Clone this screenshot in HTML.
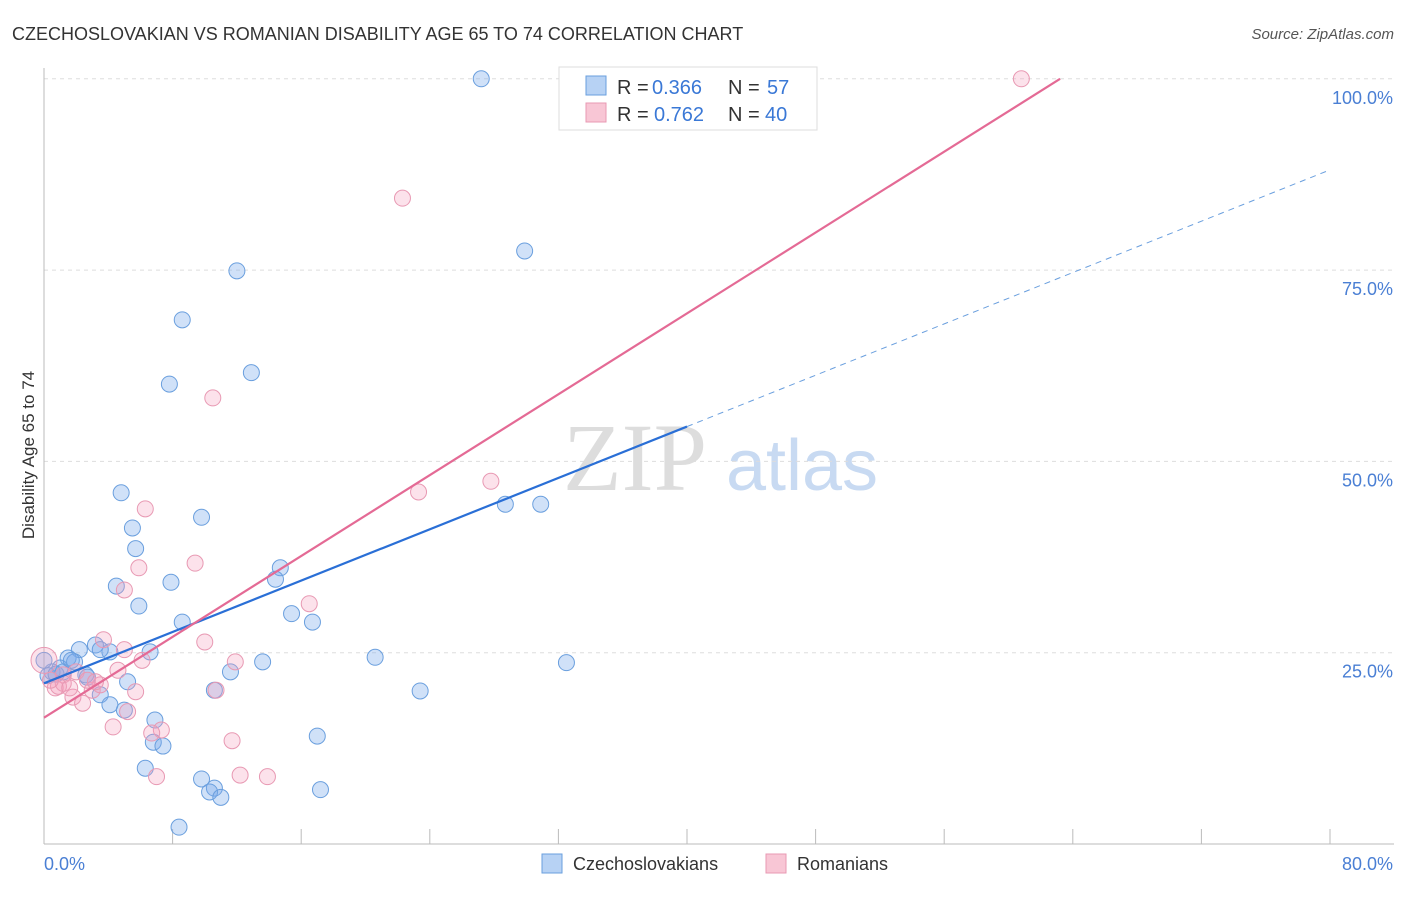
<!DOCTYPE html>
<html><head><meta charset="utf-8"><style>
body{margin:0;background:#fff;font-family:"Liberation Sans",sans-serif}
</style></head><body>
<svg width="1406" height="892" xmlns="http://www.w3.org/2000/svg" font-family="Liberation Sans, sans-serif">
<text x="12" y="40" font-size="18" fill="#333">CZECHOSLOVAKIAN VS ROMANIAN DISABILITY AGE 65 TO 74 CORRELATION CHART</text>
<text x="1394" y="39" font-size="15" fill="#555" font-style="italic" text-anchor="end">Source: ZipAtlas.com</text>
<g>
<text x="635" y="490" font-size="96" font-family="Liberation Serif, serif" fill="#ddd" text-anchor="middle">ZIP</text>
<text x="802" y="490" font-size="72" fill="#c8daf2" text-anchor="middle">atlas</text>
</g>
<g id="grid"></g>
<g id="axes"></g>
<text transform="translate(34,455) rotate(-90)" font-size="17" fill="#333" text-anchor="middle">Disability Age 65 to 74</text>
<g id="marks"></g>
<g>
<rect x="559" y="67" width="258" height="63" fill="#fff" stroke="#ddd"/>
<rect x="586" y="76" width="20" height="19" fill="#b7d2f4" stroke="#6a9fde"/>
<rect x="586" y="103" width="20" height="19" fill="#f8c6d5" stroke="#e899b3"/>
<g font-size="20" fill="#333">
<text x="617" y="94">R =</text><text x="652" y="94" fill="#3a78d6">0.366</text>
<text x="728" y="94">N =</text><text x="767" y="94" fill="#3a78d6">57</text>
<text x="617" y="121">R =</text><text x="654" y="121" fill="#3a78d6">0.762</text>
<text x="728" y="121">N =</text><text x="765" y="121" fill="#3a78d6">40</text>
</g>
</g>
<g>
<rect x="542" y="854" width="20" height="19" fill="#b7d2f4" stroke="#6a9fde"/>
<text x="573" y="870" font-size="18" fill="#333">Czechoslovakians</text>
<rect x="766" y="854" width="20" height="19" fill="#f8c6d5" stroke="#e899b3"/>
<text x="797" y="870" font-size="18" fill="#333">Romanians</text>
</g>
</svg>
<script>
const yTicks=[25,50,75,100];
const yTickLabels=["25.0%","50.0%","75.0%","100.0%"];
const xTicks=[0,8,16,24,32,40,48,56,64,72,80];
const blueX=[27.2,29.9,12.0,8.6,12.9,7.8,4.8,9.8,28.7,30.9,5.5,5.7,14.7,14.4,7.9,4.5,5.9,15.4,16.7,8.6,3.2,2.2,4.1,6.6,13.6,20.6,32.5,1.5,1.0,1.9,0.5,0.25,0.75,2.7,5.2,11.6,23.4,10.6,3.5,4.1,5.0,6.9,6.8,7.4,17.0,6.3,9.8,10.6,10.3,11.0,17.2,8.4,0,1.2,3.5,2.6,1.7];
const blueY=[100,77.5,74.9,68.5,61.6,60.1,45.9,42.7,44.4,44.4,41.3,38.6,36.1,34.6,34.2,33.7,31.1,30.1,29.0,29.0,26.0,25.4,25.1,25.1,23.8,24.4,23.7,24.3,23.0,23.8,22.5,22.0,22.2,21.8,21.2,22.5,20.0,20.1,19.5,18.2,17.5,16.2,13.3,12.8,14.1,9.9,8.5,7.3,6.8,6.1,7.1,2.2,24.0,22.5,25.4,22.1,24.0];
const pinkX=[60.8,22.3,10.5,27.8,23.3,6.3,9.4,5.9,5.0,16.5,3.7,10.0,11.9,6.1,5.0,4.6,2.0,1.2,0.7,3.0,3.5,1.2,10.7,5.7,1.8,2.4,5.2,4.3,7.3,6.7,11.7,12.2,13.9,7.0,0,0.9,2.7,3.2,0.4,1.6];
const pinkY=[100,84.4,58.3,47.4,46.0,43.8,36.7,36.1,33.2,31.4,26.7,26.4,23.8,24.0,25.4,22.7,22.5,22.1,20.4,20.1,20.8,21.0,20.1,19.9,19.2,18.4,17.3,15.3,14.9,14.5,13.5,9.0,8.8,8.8,24.0,20.6,21.4,21.2,21.4,20.4];
const blueLine=[21.0,88.1];
const blueSolidEnd=40;
const pinkLine=[16.5,1.321];
const NS="http://www.w3.org/2000/svg";
const xs=v=>44+v*16.075, ys=v=>844-v*7.652;
function mk(tag,attrs,parent){const e=document.createElementNS(NS,tag);for(const k in attrs)e.setAttribute(k,attrs[k]);parent.appendChild(e);return e;}
const grid=document.getElementById('grid'),axes=document.getElementById('axes'),marks=document.getElementById('marks');
yTicks.forEach((t,i)=>{
 const l=mk('line',{x1:44,x2:1394,y1:ys(t),y2:ys(t),stroke:'#ddd','stroke-dasharray':'4,4'},grid);
 
 
 const tx=mk('text',{x:1393,y:ys(t)+25,'font-size':18,fill:'#4a7fd4','text-anchor':'end'},grid);
 tx.textContent=yTickLabels[i];
 
 
});
const ax=mk('line',{x1:44,x2:1394,y1:844,y2:844,stroke:'#bbb'},axes);


const yax=mk('line',{x1:44,x2:44,y1:68,y2:844,stroke:'#bbb'},axes);


xTicks.forEach(t=>{
 const l=mk('line',{x1:xs(t),x2:xs(t),y1:829,y2:844,stroke:'#bbb'},axes);
 
 
});
const x0=mk('text',{x:44,y:870,'font-size':18,fill:'#4a7fd4'},axes);x0.textContent='0.0%';


const x1=mk('text',{x:1393,y:870,'font-size':18,fill:'#4a7fd4','text-anchor':'end'},axes);x1.textContent='80.0%';


blueX.forEach((v,i)=>{
 const c=mk('circle',{cx:xs(v),cy:ys(blueY[i]),r:8,fill:'rgba(120,170,235,0.35)',stroke:'#6a9fde','stroke-width':1},marks);
 
 
});
pinkX.forEach((v,i)=>{
 const c=mk('circle',{cx:xs(v),cy:ys(pinkY[i]),r:(v===0?13:8),fill:'rgba(245,160,190,0.3)',stroke:'#e899b3','stroke-width':1},marks);
 
 
});
const by=x=>blueLine[0]+(blueLine[1]-blueLine[0])*x/80;
const bs=mk('line',{x1:xs(0),y1:ys(by(0)),x2:xs(blueSolidEnd),y2:ys(by(blueSolidEnd)),stroke:'#2a6fd6','stroke-width':2.2},marks);


const bd=mk('line',{x1:xs(blueSolidEnd),y1:ys(by(blueSolidEnd)),x2:xs(80),y2:ys(by(80)),stroke:'#6a9fde','stroke-width':1,'stroke-dasharray':'6,5'},marks);


const pxEnd=(100-pinkLine[0])/pinkLine[1];
const pl=mk('line',{x1:xs(0),y1:ys(pinkLine[0]),x2:xs(pxEnd),y2:ys(100),stroke:'#e46a95','stroke-width':2.2},marks);


</script>
</body></html>
